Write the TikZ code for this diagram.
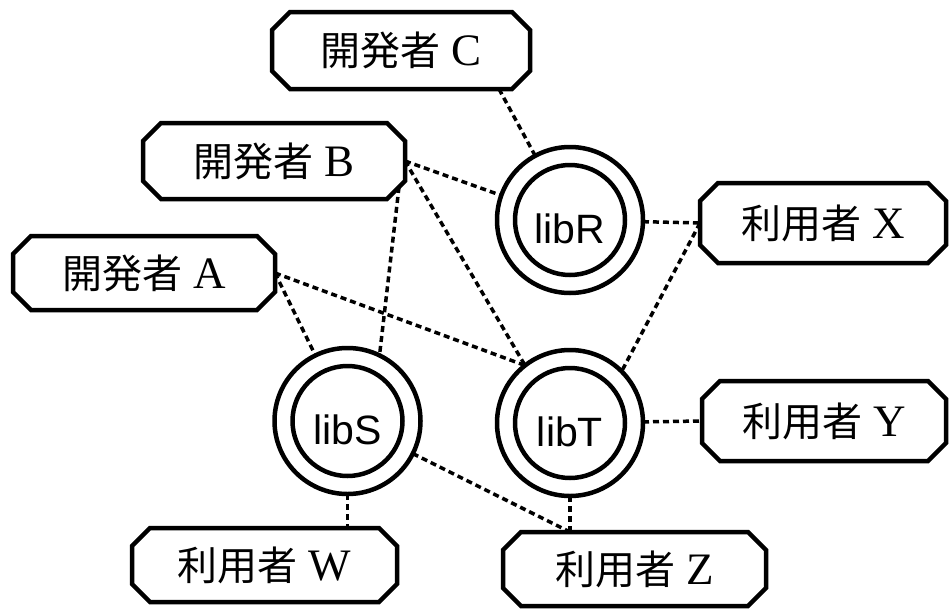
\documentclass[tikz,border=0pt]{standalone}
\usepackage{fontspec}
\setmainfont{Liberation Serif}
\newfontfamily\cjk{Noto Sans CJK JP}
\newfontfamily\libfont{Liberation Sans}
\newcommand\octbox[1]{%
  \draw[boxline] ([xshift=18pt]#1.north west) -- ([xshift=-18pt]#1.north east)
    -- ([yshift=-18pt]#1.north east) -- ([yshift=18pt]#1.south east)
    -- ([xshift=-18pt]#1.south east) -- ([xshift=18pt]#1.south west)
    -- ([yshift=18pt]#1.south west) -- ([yshift=-18pt]#1.north west) -- cycle;}
\newcommand\who[2]{{\cjk\fontsize{40}{40}\selectfont #1}\hspace{11pt}{\fontsize{45}{45}\selectfont #2}}
\begin{document}
\begin{tikzpicture}[x=1pt,y=-1pt,
  person/.style={rectangle, inner sep=0pt, outer sep=0pt},
  boxline/.style={line width=4.5pt, line join=miter},
  lib/.style={circle, draw, line width=4.5pt, minimum size=146pt, inner sep=0pt, outer sep=0pt,
    font=\libfont\fontsize{41}{41}\selectfont, text height=46pt, text depth=0pt},
  inner/.style={line width=4.5pt},
  conn/.style={line width=3.5pt, dash pattern=on 6pt off 4pt}]
\useasboundingbox (0,0) rectangle (950,608);
% people
\node[person, minimum width=258pt, minimum height=77pt] (C) at (401,50.5) {\who{開発者}{C}};
\node[person, minimum width=262pt, minimum height=76pt] (B) at (274,161) {\who{開発者}{B}};
\node[person, minimum width=262pt, minimum height=74pt] (A) at (144,273) {\who{開発者}{A}};
\node[person, minimum width=246pt, minimum height=80pt] (X) at (823,223) {\who{利用者}{X}};
\node[person, minimum width=244pt, minimum height=80pt] (Y) at (824,421) {\who{利用者}{Y}};
\node[person, minimum width=265pt, minimum height=74pt] (W) at (264.5,565) {\who{利用者}{W}};
\node[person, minimum width=263pt, minimum height=74pt] (Z) at (634.5,569) {\who{利用者}{Z}};
\foreach \n in {A,B,C,X,Y,W,Z} {\octbox{\n}}
% libraries
\node[lib] (libR) at (570,220) {libR};
\node[lib] (libT) at (570,423) {libT};
\node[lib] (libS) at (347.5,421) {libS};
\foreach \n in {libR,libT,libS} {\draw[inner] (\n.center) circle[radius=55pt];}
% connectors
\draw[conn] ([xshift=98pt]C.south) -- (libR);
\draw[conn] (B.east) -- (libR);
\draw[conn] (B.east) -- (libT.128);
\draw[conn] ([xshift=-6pt,yshift=12pt]B.south east) -- (libS.64);
\draw[conn] (A.east) -- (libT.128);
\draw[conn] (A.east) -- (libS);
\draw[conn] (libR) -- (X.west);
\draw[conn] (X.west) -- (libT.45);
\draw[conn] (libT) -- (Y.west);
\draw[conn] (libS) -- (W.north -| libS);
\draw[conn] (libT) -- (Z.north -| libT);
\draw[conn] (libS) -- (Z.north -| libT);
\end{tikzpicture}
\end{document}
